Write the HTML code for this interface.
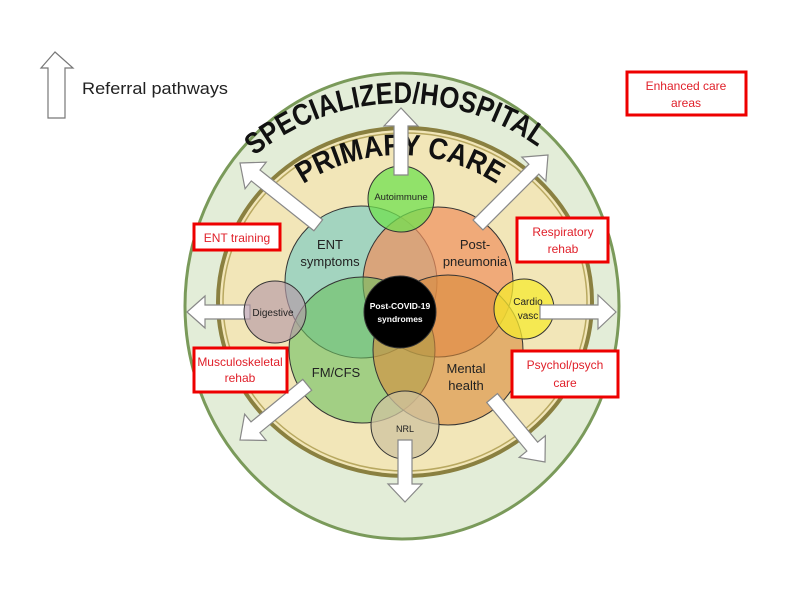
<!DOCTYPE html>
<html><head><meta charset="utf-8"><style>
html,body{margin:0;padding:0;background:#fff;}
svg{display:block;font-family:"Liberation Sans",sans-serif;}
</style></head><body>
<svg width="800" height="600" viewBox="0 0 800 600" xmlns="http://www.w3.org/2000/svg">
<defs>
<path id="arc1" d="M 170 335 A 232 232 0 0 1 634 335"/>
<path id="arc2" d="M 225 330 A 175 175 0 0 1 575 330"/>
</defs>
<ellipse cx="402" cy="306" rx="217" ry="233" fill="#e3edd8" stroke="#7a9a5a" stroke-width="3"/>
<ellipse cx="405" cy="302" rx="187" ry="174" fill="#f2e6b8" stroke="#8a8040" stroke-width="4"/>
<ellipse cx="405" cy="302" rx="182" ry="169" fill="none" stroke="#b8a860" stroke-width="1.5"/>
<text font-size="30" font-weight="bold" fill="#111"><textPath href="#arc1" startOffset="49%" text-anchor="middle" textLength="305" lengthAdjust="spacingAndGlyphs">SPECIALIZED/HOSPITAL</textPath></text>
<text font-size="30" font-weight="bold" fill="#111"><textPath href="#arc2" startOffset="50%" text-anchor="middle" textLength="205" lengthAdjust="spacingAndGlyphs">PRIMARY CARE</textPath></text>
<g fill="#fff" stroke="#888" stroke-width="1.2">
<polygon points="250,305 205,305 205,296 187,312 205,328 205,319 250,319"/>
</g>
<g stroke="#333" stroke-width="1">
<circle cx="361" cy="282" r="76" fill="#8fcfc0" fill-opacity="0.8"/>
<circle cx="438" cy="282" r="75" fill="#f0905e" fill-opacity="0.7"/>
<circle cx="362" cy="350" r="73" fill="#6cc060" fill-opacity="0.6"/>
<circle cx="448" cy="350" r="75" fill="#d98a3a" fill-opacity="0.6"/>
<circle cx="401" cy="199" r="33" fill="#70e050" fill-opacity="0.75"/>
<circle cx="275" cy="312" r="31" fill="#b59aa8" fill-opacity="0.65"/>
<circle cx="524" cy="309" r="30" fill="#f6ea30" fill-opacity="0.75"/>
<circle cx="405" cy="425" r="34" fill="#cfc3a0" fill-opacity="0.75"/>
<circle cx="400" cy="312" r="36" fill="#000"/>
</g>
<g fill="#fff" stroke="#888" stroke-width="1.2">
<polygon transform="translate(401,108) rotate(-90)" points="0,0 -18,-17 -18,-7 -67,-7 -67,7 -18,7 -18,17"/>
<polygon transform="translate(240,163) rotate(-141.5)" points="0,0 -20,-17 -20,-7 -100,-7 -100,7 -20,7 -20,17"/>
<polygon transform="translate(548,155) rotate(-45)" points="0,0 -20,-17 -20,-7 -99,-7 -99,7 -20,7 -20,17"/>
<polygon transform="translate(616,312) rotate(0)" points="0,0 -18,-17 -18,-7 -76,-7 -76,7 -18,7 -18,17"/>
<polygon transform="translate(240,440) rotate(140.6)" points="0,0 -20,-17 -20,-7 -87,-7 -87,7 -20,7 -20,17"/>
<polygon transform="translate(545,462) rotate(50.4)" points="0,0 -20,-17 -20,-7 -83,-7 -83,7 -20,7 -20,17"/>
<polygon transform="translate(405,502) rotate(90)" points="0,0 -18,-17 -18,-7 -62,-7 -62,7 -18,7 -18,17"/>
</g>
<g fill="#222" text-anchor="middle">
<text x="401" y="200" font-size="9.5">Autoimmune</text>
<text x="330" y="249" font-size="13">ENT</text>
<text x="330" y="266" font-size="13">symptoms</text>
<text x="475" y="249" font-size="13">Post-</text>
<text x="475" y="266" font-size="13">pneumonia</text>
<text x="273" y="316" font-size="10">Digestive</text>
<text x="528" y="305" font-size="10">Cardio</text>
<text x="528" y="319" font-size="10">vasc</text>
<text x="336" y="377" font-size="13">FM/CFS</text>
<text x="466" y="373" font-size="13">Mental</text>
<text x="466" y="390" font-size="13">health</text>
<text x="405" y="432" font-size="9">NRL</text>
<text x="400" y="309" font-size="8.5" font-weight="bold" fill="#fff">Post-COVID-19</text>
<text x="400" y="322" font-size="8.5" font-weight="bold" fill="#fff">syndromes</text>
</g>
<g fill="#fff" stroke="#e00" stroke-width="3">
<rect x="194" y="224" width="86" height="26"/>
<rect x="517" y="218" width="91" height="44"/>
<rect x="194" y="348" width="93" height="44"/>
<rect x="512" y="351" width="106" height="46"/>
<rect x="627" y="72" width="119" height="43"/>
</g>
<g fill="#e0202a" text-anchor="middle" font-size="12">
<text x="237" y="242">ENT training</text>
<text x="563" y="236">Respiratory</text>
<text x="563" y="253">rehab</text>
<text x="240" y="366">Musculoskeletal</text>
<text x="240" y="382">rehab</text>
<text x="565" y="369">Psychol/psych</text>
<text x="565" y="387">care</text>
<text x="686" y="90">Enhanced care</text>
<text x="686" y="107">areas</text>
</g>
<polygon points="55,52 73,68 65,68 65,118 48,118 48,68 41,68" fill="#fff" stroke="#777" stroke-width="1.2"/>
<text x="82" y="94" font-size="17" fill="#222" textLength="146" lengthAdjust="spacingAndGlyphs">Referral pathways</text>
</svg>
</body></html>
